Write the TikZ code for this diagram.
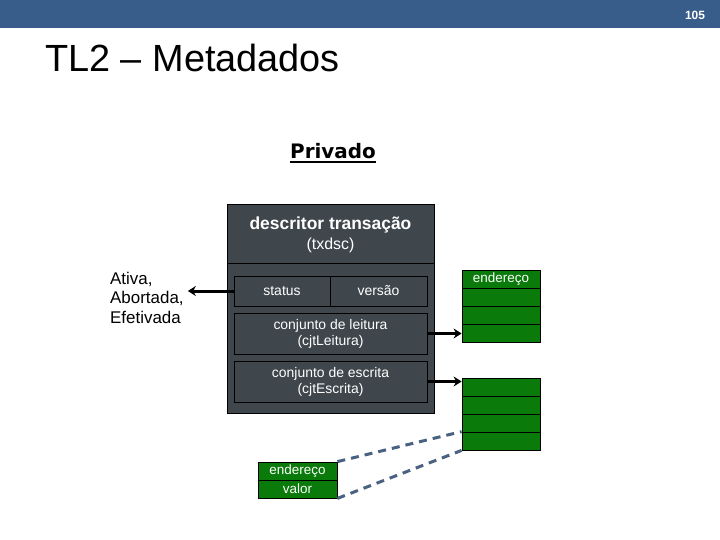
\documentclass[tikz,border=0pt]{standalone}
\usepackage{fontspec}
\setmainfont{Liberation Sans}
\newfontfamily\privfont{DejaVu Sans}
\usepackage{tikz}
\usetikzlibrary{positioning, arrows.meta}
\definecolor{faixa}{RGB}{57,93,138}
\definecolor{caixa}{RGB}{63,71,77}
\definecolor{verde}{RGB}{10,122,10}
\definecolor{tracejado}{RGB}{74,98,130}

\begin{document}
\begin{tikzpicture}[x=1bp, y=-1bp, font=\fontsize{14}{16}\selectfont,
      cx/.style={draw=black, fill=caixa, text=white, align=center, inner sep=0pt, line width=1bp},
      cel/.style={draw=black, fill=verde, text=white, minimum width=78bp, minimum height=18bp,
        inner sep=0pt, line width=0.8bp, font=\fontsize{13.5}{15}\selectfont},
      seta/.style={-{Stealth[length=8bp, width=10bp]}, line width=3bp},
      tracos/.style={line width=3bp, tracejado, dash pattern=on 8bp off 6bp}]
    \useasboundingbox (0,0) rectangle (720,540);
    % faixa do topo
    \fill[faixa] (0,0) rectangle (720,28);
    \node[text=white, font=\bfseries\fontsize{12}{14}\selectfont] (pagina) at (695,15) {105};
    \node[anchor=base west, inner sep=0pt, font=\fontsize{38}{44}\selectfont] (titulo) at (45,72) {TL2 – Metadados};
    \node[inner sep=0pt, font=\privfont\bfseries\fontsize{20}{24}\selectfont] (privado) at (333,151) {Privado};
    \draw[line width=2bp] ([yshift=-4bp]privado.base west) -- ([yshift=-4bp]privado.base east);
    % descritor
    \node[cx, minimum width=207bp, minimum height=60bp] (cab) at (330.5,235)
      {{\bfseries\fontsize{17.5}{21}\selectfont descritor transação}\\[4bp] {\fontsize{16}{19}\selectfont(txdsc)}};
    \node[cx, minimum width=207bp, minimum height=149bp] (corpo) at (330.5,338.5) {};
    \node[cx, minimum width=96bp, minimum height=30bp] (status) at (282,291) {status};
    \node[cx, minimum width=97bp, minimum height=30bp] (versao) at (378.5,291) {versão};
    \node[cx, minimum width=193bp, minimum height=41bp] (leitura) at (330.5,333.5) {conjunto de leitura\\(cjtLeitura)};
    \node[cx, minimum width=193bp, minimum height=41bp] (escrita) at (330.5,381.5) {conjunto de escrita\\(cjtEscrita)};
    \node[anchor=north west, align=left, inner xsep=4bp, inner ysep=2bp,
          font=\fontsize{17}{19.5}\selectfont] (estados) at (106,270) {Ativa,\\Abortada,\\Efetivada};
    % tabelas
    \node[cel] (l1) at (501,279) {endereço};
    \foreach \i/\y in {2/297, 3/315, 4/333} \node[cel] (l\i) at (501,\y) {};
    \foreach \i/\y in {1/387, 2/405, 3/423, 4/441} \node[cel] (e\i) at (501,\y) {};
    \node[cel, minimum width=79bp] (pend) at (297.5,471) {endereço};
    \node[cel, minimum width=79bp] (pval) at (297.5,489) {valor};
    % ligacoes
    \draw[seta] (status.west) -- (status.west -| estados.east);
    \draw[seta] (leitura.east) -- (leitura.east -| l4.west);
    \draw[seta] (escrita.east) -- (escrita.east -| e1.west);
    \draw[tracos] (pend.north east) -- (e4.north west);
    \draw[tracos] (pval.south east) -- (e4.south west);
\end{tikzpicture}
\end{document}
